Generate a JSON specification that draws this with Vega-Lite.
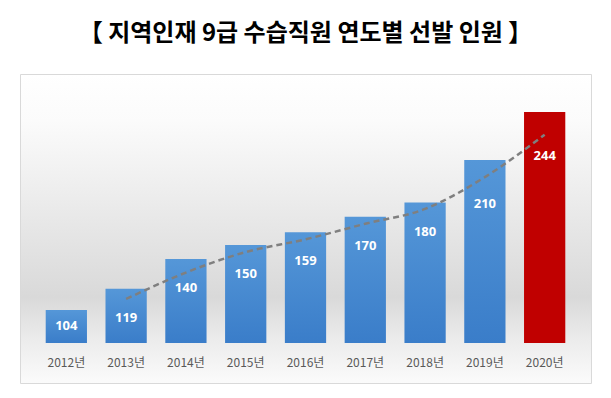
{
  "$schema": "https://vega.github.io/schema/vega-lite/v6.json",
  "width": 571,
  "height": 309,
  "autosize": {"type": "none"},
  "padding": {"left": 20, "top": 74, "right": 20, "bottom": 15},
  "background": "#ffffff",
  "title": {
    "text": "【 지역인재 9급 수습직원 연도별 선발 인원 】",
    "font": "Noto Sans CJK KR",
    "fontWeight": "bold",
    "fontSize": 24,
    "color": "#000000",
    "anchor": "middle",
    "baseline": "middle",
    "offset": 16
  },
  "config": {
    "view": {
      "stroke": "#d9d9d9",
      "strokeWidth": 1,
      "fill": {
        "gradient": "linear",
        "x1": 0, "y1": 0, "x2": 0, "y2": 1,
        "stops": [
          {"offset": 0, "color": "#ffffff"},
          {"offset": 0.15, "color": "#fbfbfb"},
          {"offset": 0.72, "color": "#d9d9d9"},
          {"offset": 0.86, "color": "#ececec"},
          {"offset": 1, "color": "#fbfbfb"}
        ]
      }
    }
  },
  "data": {
    "values": [
      {"year": "2012년", "value": 104, "trend": null},
      {"year": "2013년", "value": 119, "trend": 111.8},
      {"year": "2014년", "value": 140, "trend": 130.5},
      {"year": "2015년", "value": 150, "trend": 145},
      {"year": "2016년", "value": 159, "trend": 154},
      {"year": "2017년", "value": 170, "trend": 165},
      {"year": "2018년", "value": 180, "trend": 175.5},
      {"year": "2019년", "value": 210, "trend": 198},
      {"year": "2020년", "value": 244, "trend": 228}
    ]
  },
  "encoding": {
    "x": {
      "field": "year",
      "type": "nominal",
      "sort": null,
      "scale": {"paddingInner": 0.31, "paddingOuter": 0.43},
      "axis": {
        "title": null,
        "domain": false,
        "ticks": false,
        "labelAngle": 0,
        "labelPadding": -21,
        "labelBaseline": "middle",
        "labelFont": "Noto Sans CJK KR",
        "labelFontSize": 12,
        "labelColor": "#595959"
      }
    }
  },
  "layer": [
    {
      "transform": [{"filter": "datum.year != '2020년'"}],
      "mark": {
        "type": "bar",
        "color": {
          "gradient": "linear",
          "x1": 0, "y1": 0, "x2": 0, "y2": 1,
          "stops": [
            {"offset": 0, "color": "#5597d8"},
            {"offset": 1, "color": "#3a7dc9"}
          ]
        }
      },
      "encoding": {
        "y": {"field": "value", "type": "quantitative", "scale": {"domain": [52.4, 270.9], "nice": false, "zero": false}, "axis": null},
        "y2": {"datum": 80.7}
      }
    },
    {
      "transform": [{"filter": "datum.year == '2020년'"}],
      "mark": {"type": "bar", "color": "#c00000"},
      "encoding": {
        "y": {"field": "value", "type": "quantitative"},
        "y2": {"datum": 80.7}
      }
    },
    {
      "mark": {"type": "line", "color": "#7f7f7f", "strokeWidth": 2.5, "strokeDash": [6, 4], "interpolate": "monotone"},
      "encoding": {
        "y": {"field": "trend", "type": "quantitative"}
      }
    },
    {
      "transform": [{"filter": "datum.year == '2012년'"}],
      "mark": {"type": "text", "color": "#ffffff", "font": "Noto Sans", "fontWeight": "bold", "fontSize": 13, "dy": 16},
      "encoding": {
        "y": {"field": "value", "type": "quantitative"},
        "text": {"field": "value", "type": "quantitative"}
      }
    },
    {
      "transform": [{"filter": "datum.year != '2012년' && datum.year != '2019년' && datum.year != '2020년'"}],
      "mark": {"type": "text", "color": "#ffffff", "font": "Noto Sans", "fontWeight": "bold", "fontSize": 13, "dy": 29},
      "encoding": {
        "y": {"field": "value", "type": "quantitative"},
        "text": {"field": "value", "type": "quantitative"}
      }
    },
    {
      "transform": [{"filter": "datum.year == '2019년' || datum.year == '2020년'"}],
      "mark": {"type": "text", "color": "#ffffff", "font": "Noto Sans", "fontWeight": "bold", "fontSize": 13, "dy": 44},
      "encoding": {
        "y": {"field": "value", "type": "quantitative"},
        "text": {"field": "value", "type": "quantitative"}
      }
    }
  ]
}
